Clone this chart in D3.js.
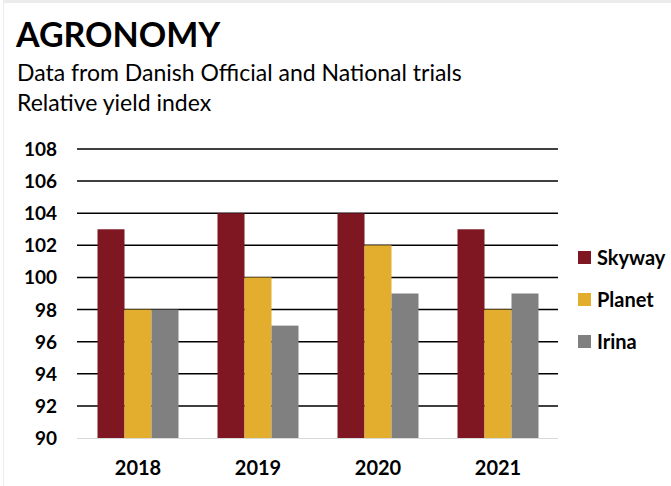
<!DOCTYPE html>
<html>
<head>
<meta charset="utf-8">
<script src="https://cdn.jsdelivr.net/npm/d3@7"></script>
<style>
  body { margin: 0; background: #fff; }
  text { font-family: Lato, "Open Sans", sans-serif; }
</style>
</head>
<body>
<div id="chart"></div>
<script>
// data
var years = ["2018", "2019", "2020", "2021"];
var seriesNames = ["Skyway", "Planet", "Irina"];
var skyway = [103, 104, 104, 103];
var planet = [98, 100, 102, 98];
var irina = [98, 97, 99, 99];
var yTicks = [90, 92, 94, 96, 98, 100, 102, 104, 106, 108];
var colors = ["#7f1722", "#e3ae2e", "#808080"];

var values = [skyway, planet, irina];

var svg = d3.select("#chart")
    .append("svg")
    .attr("width", 671)
    .attr("height", 486);

// faint frame along top and left
svg.append("line").attr("x1", 3).attr("x2", 671).attr("y1", 1.5).attr("y2", 1.5)
    .style("stroke", "#ececec").style("stroke-width", 3);
svg.append("line").attr("x1", 3.5).attr("x2", 3.5).attr("y1", 0).attr("y2", 486)
    .style("stroke", "#ececec").style("stroke-width", 1);

// titles
svg.append("text").attr("x", 16).attr("y", 47)
    .style("font-size", "34px").style("font-weight", "bold")
    .text("AGRONOMY");
svg.append("text").attr("x", 17).attr("y", 81)
    .style("font-size", "23px")
    .text("Data from Danish Official and National trials");
svg.append("text").attr("x", 17).attr("y", 111)
    .style("font-size", "23px")
    .text("Relative yield index");

var x0 = d3.scaleBand().domain(years).range([78, 558]).paddingInner(0.325).paddingOuter(0.1625);
var x1 = d3.scaleBand().domain(seriesNames).range([0, x0.bandwidth()]);
var y = d3.scaleLinear().domain([90, 108]).range([438, 149]);

// gridlines (behind bars)
svg.selectAll(".grid")
    .data(yTicks.filter(function(d) { return d > 90; }))
    .enter().append("line")
    .attr("class", "grid")
    .attr("x1", 77).attr("x2", 558)
    .attr("y1", function(d) { return y(d); })
    .attr("y2", function(d) { return y(d); })
    .style("stroke", "#000")
    .style("stroke-width", 1.5);

// bars
var group = svg.selectAll(".year")
    .data(years)
    .enter().append("g")
    .attr("class", "year")
    .attr("transform", function(d) { return "translate(" + x0(d) + ",0)"; });

group.selectAll("rect")
    .data(function(d, i) {
        return seriesNames.map(function(s, j) { return { s: s, v: values[j][i], c: colors[j] }; });
    })
    .enter().append("rect")
    .attr("x", function(d) { return x1(d.s); })
    .attr("y", function(d) { return y(d.v); })
    .attr("width", x1.bandwidth())
    .attr("height", function(d) { return y(90) - y(d.v); })
    .style("fill", function(d) { return d.c; });

// baseline
svg.append("line").attr("x1", 77).attr("x2", 558)
    .attr("y1", y(90) + 0.5).attr("y2", y(90) + 0.5)
    .style("stroke", "#d9d9d9").style("stroke-width", 1);

// y tick labels
svg.selectAll(".ylab")
    .data(yTicks)
    .enter().append("text")
    .attr("class", "ylab")
    .attr("x", 57)
    .attr("y", function(d) { return y(d) + 7; })
    .attr("text-anchor", "end")
    .style("font-size", "19px").style("font-weight", "bold")
    .text(function(d) { return d; });

// x labels
svg.selectAll(".xlab")
    .data(years)
    .enter().append("text")
    .attr("class", "xlab")
    .attr("x", function(d) { return x0(d) + x0.bandwidth() / 2; })
    .attr("y", 475)
    .attr("text-anchor", "middle")
    .style("font-size", "20px").style("font-weight", "bold")
    .text(function(d) { return d; });

// legend
var legend = svg.selectAll(".legend")
    .data(seriesNames)
    .enter().append("g")
    .attr("class", "legend")
    .attr("transform", function(d, i) { return "translate(578," + (258 + i * 42) + ")"; });

legend.append("rect")
    .attr("x", 0).attr("y", -7)
    .attr("width", 13).attr("height", 13)
    .style("fill", function(d, i) { return colors[i]; });

legend.append("text")
    .attr("x", 19).attr("y", 7)
    .style("font-size", "20px").style("font-weight", "bold")
    .text(function(d) { return d; });
</script>
</body>
</html>
